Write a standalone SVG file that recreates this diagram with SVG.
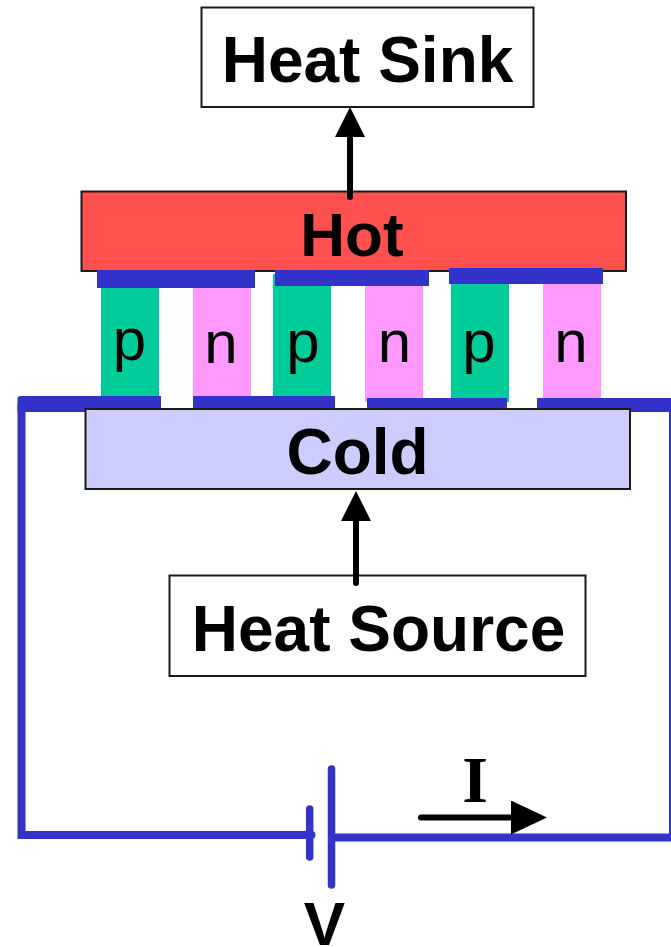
<svg xmlns="http://www.w3.org/2000/svg" width="671" height="947" viewBox="0 0 671 947">
<style>
.box{stroke:#1a1a1a;stroke-width:2}
.bar{fill:#3333cc}
.wire{fill:none;stroke:#3333cc}
.plate{fill:none;stroke:#3333cc;stroke-width:7.500;stroke-linecap:round}
.ptype{fill:#00cc99}
.ntype{fill:#ff99ff}
.lab{font-family:"Liberation Sans",Arial,sans-serif;font-weight:700;font-size:64px;text-anchor:middle;fill:#000}
.leg{font-family:"Liberation Sans",Arial,sans-serif;font-size:60px;text-anchor:middle;fill:#000}
.arr{fill:none;stroke:#000;stroke-width:6;stroke-linecap:round}
</style>
<defs>
<marker id="ah" markerUnits="userSpaceOnUse" markerWidth="32" markerHeight="32" refX="0" refY="15" orient="auto"><path d="M0 0L30 15L0 30Z" fill="#000"/></marker>
<marker id="ah2" markerUnits="userSpaceOnUse" markerWidth="38" markerHeight="36" refX="0" refY="17" orient="auto"><path d="M0 0L36 17L0 34Z" fill="#000"/></marker>
</defs>
<g id="legs">
<g id="p1"><rect class="ptype" x="101" y="280" width="58" height="120"/><text class="leg" x="129.500" y="360">p</text></g>
<g id="n1"><rect class="ntype" x="193" y="280" width="58" height="120"/><text class="leg" x="221" y="362.500">n</text></g>
<g id="p2"><rect class="ptype" x="273" y="274" width="58" height="126"/><text class="leg" x="303" y="362">p</text></g>
<g id="n2"><rect class="ntype" x="365" y="280" width="58" height="122"/><text class="leg" x="394.500" y="362">n</text></g>
<g id="p3"><rect class="ptype" x="451" y="276" width="58" height="126"/><text class="leg" x="479" y="362">p</text></g>
<g id="n3"><rect class="ntype" x="543" y="276" width="58" height="124"/><text class="leg" x="571" y="362">n</text></g>
</g>
<g id="bottom-bars">
<path class="bar" d="M17.500 399Q17.500 396 20.500 396H161V412H17.500Z"/>
<rect class="bar" x="193" y="396" width="142" height="13"/>
<rect class="bar" x="367" y="398" width="140" height="12"/>
<rect class="bar" x="537" y="398" width="134" height="14"/>
</g>
<g id="hot"><rect class="box" x="81.500" y="191.500" width="544.500" height="79.500" fill="#ff5050"/><text class="lab" x="352" y="256" style="font-size:62px">Hot</text></g>
<g id="top-bars">
<rect class="bar" x="97" y="270" width="158" height="18"/>
<rect class="bar" x="275" y="270" width="154" height="16"/>
<rect class="bar" x="449" y="268" width="154" height="16"/>
</g>
<g id="cold"><rect class="box" x="85.500" y="409" width="544.500" height="80" fill="#ccccff"/><text class="lab" x="357.500" y="474">Cold</text></g>
<g id="heat-sink"><rect class="box" x="201.500" y="7.500" width="332" height="99.500" fill="#fff"/><text class="lab" x="367.500" y="81.500">Heat Sink</text></g>
<g id="heat-source"><rect class="box" x="169.500" y="575.500" width="416" height="100.500" fill="#fff"/><text class="lab" x="378.500" y="650.500">Heat Source</text></g>
<g id="connectors">
<path class="wire" stroke-width="8" d="M21.500 404V835H311"/>
<circle cx="311.500" cy="835" r="4" fill="#3333cc"/>
<path class="wire" stroke-width="4" d="M671 404V837"/>
<path class="wire" stroke-width="8" d="M331 837.500H671"/>
<path class="plate" d="M309.700 809V857"/>
<path class="plate" d="M331.500 769V885"/>
<path class="arr" d="M350 197V137" marker-end="url(#ah)"/>
<path class="arr" d="M356 583V521" marker-end="url(#ah)"/>
<path class="arr" d="M421 817.500H511" marker-end="url(#ah2)"/>
</g>
<text class="lab" x="324.500" y="944.500" style="font-size:62px">V</text>
<text x="475" y="802" font-family="Liberation Serif,serif" font-weight="700" font-size="66" text-anchor="middle">I</text>
</svg>
